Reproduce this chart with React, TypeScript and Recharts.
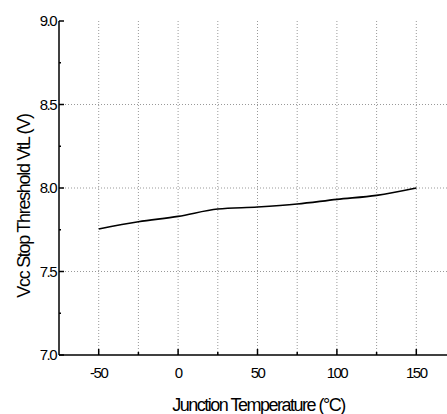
import { LineChart, Line, XAxis, YAxis, ReferenceLine } from 'recharts';

const temps = [-50, -25, 0, 25, 50, 75, 100, 125, 150];
const vtl = [7.755, 7.798, 7.83, 7.874, 7.886, 7.904, 7.932, 7.956, 8.0];
const xTicks = [-50, -25, 0, 25, 50, 75, 100, 125, 150];
const yTicks = [7, 7.25, 7.5, 7.75, 8, 8.25, 8.5, 8.75, 9];
const gridX = [-50, -25, 0, 25, 50, 75, 100, 125, 150];
const gridY = [7.5, 8, 8.5];

const data = temps.map((t, i) => ({ t, v: vtl[i] }));

const font = '"Liberation Sans", Arial, sans-serif';

const BottomTick = (p: any) => {
  const major = p.payload.value % 50 === 0;
  return (
    <g>
      <line x1={p.x} x2={p.x} y1={p.y} y2={p.y - (major ? 6 : 3)} stroke="#000" strokeWidth={1.5} />
      {major && (
        <text x={p.x} y={p.y + 23} textAnchor="middle" fontSize={15} letterSpacing={-1.5} fontFamily={font} fill="#000">
          {p.payload.value}
        </text>
      )}
    </g>
  );
};

const TopTick = (p: any) => (
  <line x1={p.x} x2={p.x} y1={p.y} y2={p.y + 6} stroke="#333" strokeWidth={1.5} />
);

const LeftTick = (p: any) => {
  const v = p.payload.value;
  const major = Math.abs(v * 2 - Math.round(v * 2)) < 1e-6;
  return (
    <g>
      <line x1={p.x} x2={p.x + (major ? 5 : 2)} y1={p.y} y2={p.y} stroke="#000" strokeWidth={1.5} />
      {major && (
        <text x={p.x - 3} y={p.y + 5} textAnchor="end" fontSize={15} letterSpacing={-1.5} fontFamily={font} fill="#000">
          {v.toFixed(1)}
        </text>
      )}
    </g>
  );
};

export default function App() {
  return (
    <div style={{ position: 'absolute', top: 0, left: 0, width: 447, height: 414, overflow: 'hidden', background: '#fff' }}>
      <LineChart width={470} height={414} data={data} margin={{ top: 21, right: 14, bottom: 0, left: 0 }}>
        <XAxis
          dataKey="t"
          type="number"
          domain={[-75, 175]}
          ticks={xTicks}
          height={59}
          tickSize={0}
          tickMargin={0}
          tickLine={false}
          axisLine={{ stroke: '#000', strokeWidth: 1.5 }}
          tick={<BottomTick />}
          interval={0}
        />
        <XAxis
          xAxisId="top"
          orientation="top"
          dataKey="t"
          type="number"
          domain={[-75, 175]}
          ticks={xTicks}
          height={0}
          tickSize={0}
          tickMargin={0}
          tickLine={false}
          axisLine={{ stroke: '#555', strokeWidth: 2 }}
          tick={<TopTick />}
          interval={0}
        />
        <YAxis
          type="number"
          domain={[7, 9]}
          ticks={yTicks}
          width={59}
          tickSize={0}
          tickMargin={0}
          tickLine={false}
          axisLine={{ stroke: '#000', strokeWidth: 1.5 }}
          tick={<LeftTick />}
          interval={0}
        />
        {gridX.map((g) => (
          <ReferenceLine key={`gx${g}`} x={g} stroke="#999" strokeDasharray="1 2" />
        ))}
        {gridY.map((g) => (
          <ReferenceLine key={`gy${g}`} y={g} stroke="#999" strokeDasharray="1 2" />
        ))}
        <Line dataKey="v" type="monotone" stroke="#000" strokeWidth={1.6} dot={false} isAnimationActive={false} />
        <text x={258.5} y={411} textAnchor="middle" fontSize={18} letterSpacing={-1.5} fontFamily={font} fill="#000">
          Junction Temperature (°C)
        </text>
        <text
          x={30}
          y={206}
          transform="rotate(-90 30 206)"
          textAnchor="middle"
          fontSize={18}
          letterSpacing={-1.3}
          fontFamily={font}
          fill="#000"
        >
          Vcc Stop Threshold VtL (V)
        </text>
      </LineChart>
    </div>
  );
}
